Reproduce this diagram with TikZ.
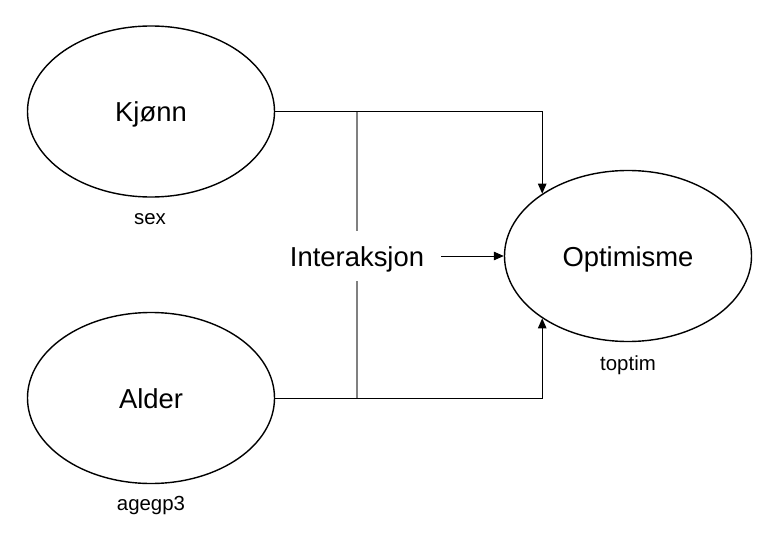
\documentclass[tikz,border=0pt]{standalone}
\usepackage{fontspec}
\setmainfont{Liberation Sans}
\usetikzlibrary{shapes.geometric,arrows.meta}
\tikzset{
  var/.style={ellipse, draw, line width=1.4pt, minimum width=247pt, minimum height=171pt, inner sep=0pt,
    font=\fontsize{27.4}{30}\selectfont, text height=21pt, text depth=0pt},
  lbl/.style={anchor=base, inner sep=0pt, font=\fontsize{20.4}{24}\selectfont},
  conn/.style={line width=1pt, -{Triangle[length=10pt,width=8.5pt]}},
  plain/.style={line width=1pt},
  grayline/.style={line width=1.2pt, draw=black!50}
}
\begin{document}
\begin{tikzpicture}[x=1pt,y=-1pt]
\useasboundingbox[fill=white] (0,0) rectangle (775,537);
\node[var] (K) at (151,111.5) {Kjønn};
\node[var] (A) at (151,398) {Alder};
\node[var] (O) at (628,256) {Optimisme};
\node[lbl] (ks) at (150,225) {sex};
\node[lbl] (as) at (151,510) {agegp3};
\node[lbl] (os) at (628,370) {toptim};
\node[inner xsep=17pt, minimum height=50pt, font=\fontsize{27.4}{30}\selectfont, text height=21pt, text depth=0pt] (I) at (357,256) {Interaksjon};
\draw[grayline] (I.north) -- (I.north |- K.east);
\draw[grayline] (I.south) -- (I.south |- A.east);
\draw[conn] (K.east) -| (O.144);
\draw[conn] (A.east) -| (O.216);
\draw[conn] (I.east) -- (O.west);
\end{tikzpicture}
\end{document}
